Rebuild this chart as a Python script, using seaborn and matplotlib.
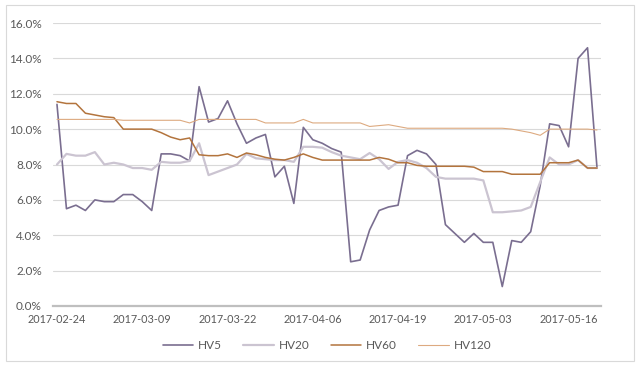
import numpy as np
import pandas as pd
import matplotlib
matplotlib.use("Agg")
import matplotlib.pyplot as plt
import matplotlib.ticker as mticker
import seaborn as sns

dates = ["2017-02-24", "2017-03-09", "2017-03-22", "2017-04-06",
         "2017-04-19", "2017-05-03", "2017-05-16"]
label_step = 9

hv5 = [11.4, 5.5, 5.7, 5.4, 6.0, 5.9, 5.9, 6.3, 6.3, 5.9,
       5.4, 8.6, 8.6, 8.5, 8.2, 12.4, 10.4, 10.6, 11.6, 10.3,
       9.2, 9.5, 9.7, 7.3, 7.9, 5.8, 10.1, 9.4, 9.2, 8.9,
       8.7, 2.5, 2.6, 4.3, 5.4, 5.6, 5.7, 8.5, 8.8, 8.6,
       8.0, 4.6, 4.1, 3.6, 4.1, 3.6, 3.6, 1.1, 3.7, 3.6,
       4.2, 6.8, 10.3, 10.2, 9.0, 14.0, 14.6, 7.8]
hv20 = [8.0, 8.6, 8.5, 8.5, 8.7, 8.0, 8.1, 8.0, 7.8, 7.8,
        7.7, 8.15, 8.1, 8.1, 8.2, 9.2, 7.4, 7.6, 7.8, 8.0,
        8.6, 8.35, 8.3, 8.25, 8.25, 8.15, 9.0, 9.0, 8.95, 8.7,
        8.5, 8.4, 8.3, 8.65, 8.3, 7.75, 8.15, 8.25, 8.1, 7.8,
        7.3, 7.2, 7.2, 7.2, 7.2, 7.1, 5.3, 5.3, 5.35, 5.4,
        5.6, 7.0, 8.4, 8.0, 8.0, 8.25, 7.8, 7.8]
hv60 = [11.55, 11.45, 11.45, 10.9, 10.8, 10.7, 10.65, 10.0, 10.0, 10.0,
        10.0, 9.8, 9.55, 9.4, 9.5, 8.55, 8.5, 8.5, 8.6, 8.4,
        8.65, 8.55, 8.4, 8.3, 8.25, 8.4, 8.6, 8.4, 8.25, 8.25,
        8.25, 8.25, 8.25, 8.25, 8.4, 8.3, 8.1, 8.1, 7.95, 7.9,
        7.9, 7.9, 7.9, 7.9, 7.85, 7.6, 7.6, 7.6, 7.45, 7.45,
        7.45, 7.45, 8.1, 8.1, 8.1, 8.25, 7.8, 7.8]
hv120 = [10.55, 10.55, 10.55, 10.55, 10.55, 10.55, 10.55, 10.5, 10.5, 10.5,
         10.5, 10.5, 10.5, 10.5, 10.35, 10.55, 10.55, 10.55, 10.55, 10.55,
         10.55, 10.55, 10.35, 10.35, 10.35, 10.35, 10.55, 10.35, 10.35, 10.35,
         10.35, 10.35, 10.35, 10.15, 10.2, 10.25, 10.15, 10.05, 10.05, 10.05,
         10.05, 10.05, 10.05, 10.05, 10.05, 10.05, 10.05, 10.05, 10.0, 9.9,
         9.8, 9.65, 10.0, 10.0, 10.0, 10.0, 10.0, 9.95]

series = {"HV5": hv5, "HV20": hv20, "HV60": hv60, "HV120": hv120}
colors = {"HV5": "#7A6E90", "HV20": "#CBC4D1", "HV60": "#B3743D", "HV120": "#DDAA80"}
widths = {"HV5": 1.2, "HV20": 1.6, "HV60": 1.1, "HV120": 0.8}

frames = []
for name, vals in series.items():
    frames.append(pd.DataFrame({"idx": np.arange(len(vals)), "value": vals, "series": name}))
df = pd.concat(frames, ignore_index=True)

sns.set_style("white")
plt.rcParams["font.family"] = ["Lato", "DejaVu Sans"]

fig = plt.figure(figsize=(6.4, 3.67), dpi=100)
ax = fig.add_axes([53 / 640, 1 - 306 / 367, 548 / 640, 283 / 367])

for name in series:
    sns.lineplot(data=df[df["series"] == name], x="idx", y="value", ax=ax,
                 color=colors[name], linewidth=widths[name], label=name,
                 sort=False, estimator=None)

n = len(hv5)
ax.set_xlim(-0.42, n - 1 + 0.42)
ax.set_ylim(0, 16)
ax.set_yticks(np.arange(0, 16.1, 2))
ax.yaxis.set_major_formatter(mticker.FuncFormatter(lambda v, p: f"{v:.1f}%"))
ax.set_xticks(np.arange(len(dates)) * label_step)
ax.set_xticklabels(dates)
ax.grid(axis="y", color="#D9D9D9", linewidth=0.8)
ax.set_axisbelow(True)
for s in ["top", "right", "left"]:
    ax.spines[s].set_visible(False)
ax.spines["bottom"].set_color("#BFBFBF")
ax.spines["bottom"].set_linewidth(1.6)
ax.tick_params(axis="both", length=0, labelsize=8.5, colors="#595959")
ax.tick_params(axis="x", pad=6, labelsize=7.8)
ax.tick_params(axis="y", pad=8)
ax.set_xlabel("")
ax.set_ylabel("")

leg = ax.legend(loc="center", bbox_to_anchor=(0.5, -0.14), ncol=4, frameon=False,
                fontsize=8.5, handlelength=2.6, columnspacing=1.8, handletextpad=0.4)
for t in leg.get_texts():
    t.set_color("#595959")

fig.patches.append(plt.Rectangle((6 / 640, 1 - 361 / 367), 628 / 640, 356 / 367,
                                 transform=fig.transFigure, fill=False,
                                 edgecolor="#D9D9D9", linewidth=0.8))

fig.savefig("out.png", dpi=100)
